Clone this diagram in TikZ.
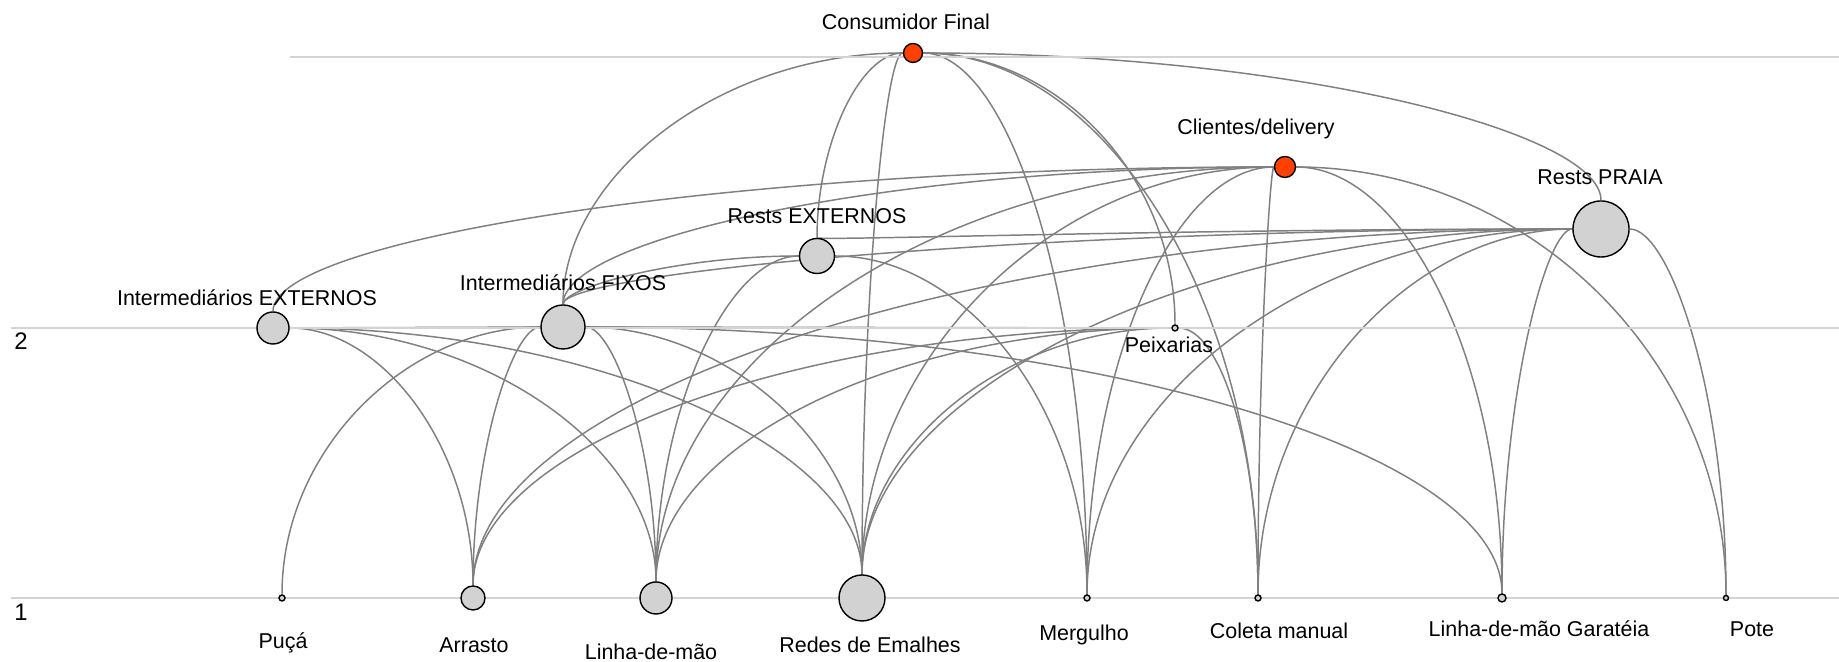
\documentclass[tikz,border=0pt]{standalone}
\usepackage{fontspec}
\setmainfont{Liberation Sans}
\usetikzlibrary{calc}
\pgfdeclarelayer{bg}
\pgfsetlayers{bg,main}
\definecolor{redorange}{RGB}{255,64,0}
\definecolor{tiegray}{RGB}{128,128,128}
\definecolor{gridgray}{RGB}{212,212,212}
\tikzset{
  actor/.style={circle, draw=black, line width=0.4pt, fill=gray!35, inner sep=0pt},
  buyer/.style={actor, fill=redorange},
  tie/.style={draw=tiegray, line width=0.42pt},
  lbl/.style={font=\fontsize{6.1}{7}\selectfont, inner sep=0pt},
  levelline/.style={draw=gridgray, line width=0.45pt}
}
\begin{document}
\begin{tikzpicture}[x=0.01cm, y=0.01cm]
				\useasboundingbox (0,0) rectangle (1839,662);
				%level lines
				\draw[levelline] (290,605) -- (1839,605);
				\draw[levelline] (11,334) -- (1839,334);
				\draw[levelline] (11,64) -- (1839,64);
				\node[lbl, font=\fontsize{6.8}{8}\selectfont] (lvl2) at (21,321) {2};
				\node[lbl, font=\fontsize{6.8}{8}\selectfont] (lvl1) at (21,50) {1};
				
				%buyers
				\node[buyer, minimum size=1.9mm] (cf) at (913,609) {};
				\node[buyer, minimum size=2.1mm] (cd) at (1285,495) {};
				\node[actor, minimum size=5.6mm] (rp) at (1601,433) {};
				\node[actor, minimum size=3.5mm] (re) at (817,406) {};
				\node[actor, minimum size=3.2mm] (ie) at (273,334) {};
				\node[actor, minimum size=4.4mm] (if) at (563,335) {};
				\node[actor, minimum size=0.6mm] (px) at (1175,334) {};
				
				%fishing gear
				\node[actor, minimum size=0.6mm] (puca) at (282,64) {};
				\node[actor, minimum size=2.4mm] (arrasto) at (473,64) {};
				\node[actor, minimum size=3.2mm] (linha) at (656,64) {};
				\node[actor, minimum size=4.6mm] (redes) at (862,64) {};
				\node[actor, minimum size=0.6mm] (mergulho) at (1087,64) {};
				\node[actor, minimum size=0.6mm] (coleta) at (1258,64) {};
				\node[actor, minimum size=0.8mm] (garateia) at (1502,64) {};
				\node[actor, minimum size=0.5mm] (pote) at (1726,64) {};
				
				%labels
				\node[lbl] (cf-l) at (906,640) {Consumidor Final};
				\node[lbl] (cd-l) at (1256,533) {Clientes/delivery};
				\node[lbl] (rp-l) at (1600,485) {Rests PRAIA};
				\node[lbl] (re-l) at (817,446) {Rests EXTERNOS};
				\node[lbl] (ie-l) at (247,364) {Intermediários EXTERNOS};
				\node[lbl] (if-l) at (563,379) {Intermediários FIXOS};
				\node[lbl] (px-l) at (1169,317) {Peixarias};
				\node[lbl] (puca-l) at (283,19) {Puçá};
				\node[lbl] (arrasto-l) at (474,17) {Arrasto};
				\node[lbl] (linha-l) at (651,10) {Linha-de-mão};
				\node[lbl] (redes-l) at (870,17) {Redes de Emalhes};
				\node[lbl] (mergulho-l) at (1084,27) {Mergulho};
				\node[lbl] (coleta-l) at (1279,31) {Coleta manual};
				\node[lbl] (garateia-l) at (1539,33) {Linha-de-mão Garatéia};
				\node[lbl] (pote-l) at (1752,33) {Pote};
				
				%ties: up from the lower node, flat into the upper one
				\begin{pgfonlayer}{bg}
				\foreach \lo/\up in {puca/if,
					arrasto/ie, arrasto/if, arrasto/rp, arrasto/px,
					linha/ie, linha/if, linha/re, linha/cd, linha/px,
					redes/ie, redes/if, redes/cf, redes/cd, redes/rp, redes/px,
					mergulho/re, mergulho/cf, mergulho/cd, mergulho/rp,
					coleta/cf, coleta/px, coleta/cd, coleta/rp,
					garateia/if, garateia/cd, garateia/rp,
					pote/cd, pote/rp,
					if/cf, re/cf, px/cf, rp/cf, ie/cd, if/cd, if/re, if/rp, re/rp}{
					\draw[tie] let \p1=(\lo), \p2=(\up) in
						(\lo) .. controls +(0pt,{0.552*(\y2-\y1)}) and +({0.552*(\x1-\x2)},0pt) .. (\up);
				}
				\draw[tie] (ie) -- (if);
				\draw[tie] (if) -- (px);
				\end{pgfonlayer}
			\end{tikzpicture}
\end{document}
